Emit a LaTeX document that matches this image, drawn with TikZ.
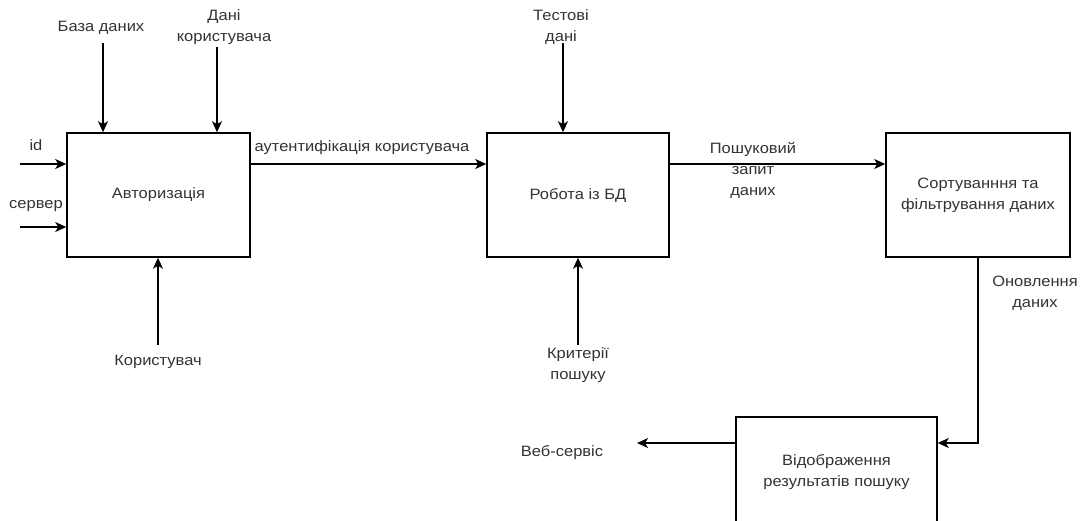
\documentclass[tikz,border=0pt]{standalone}
\usepackage{fontspec}
\setmainfont{Liberation Sans}[FakeStretch=1.1]
\usetikzlibrary{arrows.meta}
\begin{document}
\begin{tikzpicture}[x=1pt,y=-1pt,
  every node/.style={font=\fontsize{15}{21}\selectfont, text=black!80, inner sep=0pt, align=center},
  procbox/.style={draw=black, line width=1.5pt, fill=white},
  arr/.style={line width=1.5pt, draw=black, -{Stealth[length=11pt,width=10pt,inset=3pt]}},
  ln/.style={line width=1.5pt, draw=black}]
\clip (0,0) rectangle (1085,521);
\fill[white] (0,0) rectangle (1085,521);

% boxes
\node[procbox, minimum width=183pt, minimum height=124pt] (b1) at (158.5,195) {Авторизація};
\node[procbox, minimum width=182pt, minimum height=124pt] (b2) at (578,195) {Робота із БД};
\node[procbox, minimum width=184pt, minimum height=124pt] (b3) at (978,195) {Сортуванння та\\фільтрування даних};
\node[procbox, minimum width=201pt, minimum height=110pt] (b4) at (836.5,472) {Відображення\\результатів пошуку};

% labels
\node (lbaza) at (101,28) {База даних};
\node (ldani) at (224,27) {Дані\\користувача};
\node (lid) at (36,145) {id};
\node (lserv) at (36,206) {сервер};
\node (lkor) at (158,362) {Користувач};
\node (lauth) at (362,148) {аутентифікація користувача};
\node (ltest) at (561,27) {Тестові\\дані};
\node (lkrit) at (578,365) {Критерії\\пошуку};
\node (lposh) at (753,170) {Пошуковий\\запит\\даних};
\node (lonov) at (1035,293) {Оновлення\\даних};
\node (lweb) at (562,453) {Веб-сервіс};

% coordinates for free ends
\coordinate (cbaza) at (103,43);
\coordinate (cdani) at (217,47);
\coordinate (cid) at (20,164);
\coordinate (cserv) at (20,227);
\coordinate (ckor) at (158,345);
\coordinate (ctest) at (563,43);
\coordinate (ckrit) at (578,345);
\coordinate (cweb) at (637,443);
\coordinate (cturn) at (978,443);

% connectors
\draw[arr] (cbaza) -- (cbaza |- b1.north);
\draw[arr] (cdani) -- (cdani |- b1.north);
\draw[arr] (cid) -- (cid -| b1.west);
\draw[arr] (cserv) -- (cserv -| b1.west);
\draw[arr] (ckor) -- (ckor |- b1.south);
\draw[arr] (b1.east |- cid) -- (b2.west |- cid);
\draw[arr] (ctest) -- (ctest |- b2.north);
\draw[arr] (ckrit) -- (ckrit |- b2.south);
\draw[arr] (b2.east |- cid) -- (b3.west |- cid);
\draw[arr] (b3.south) -- (cturn) -- (cturn -| b4.east);
\draw[arr] (b4.west |- cweb) -- (cweb);
\end{tikzpicture}
\end{document}
